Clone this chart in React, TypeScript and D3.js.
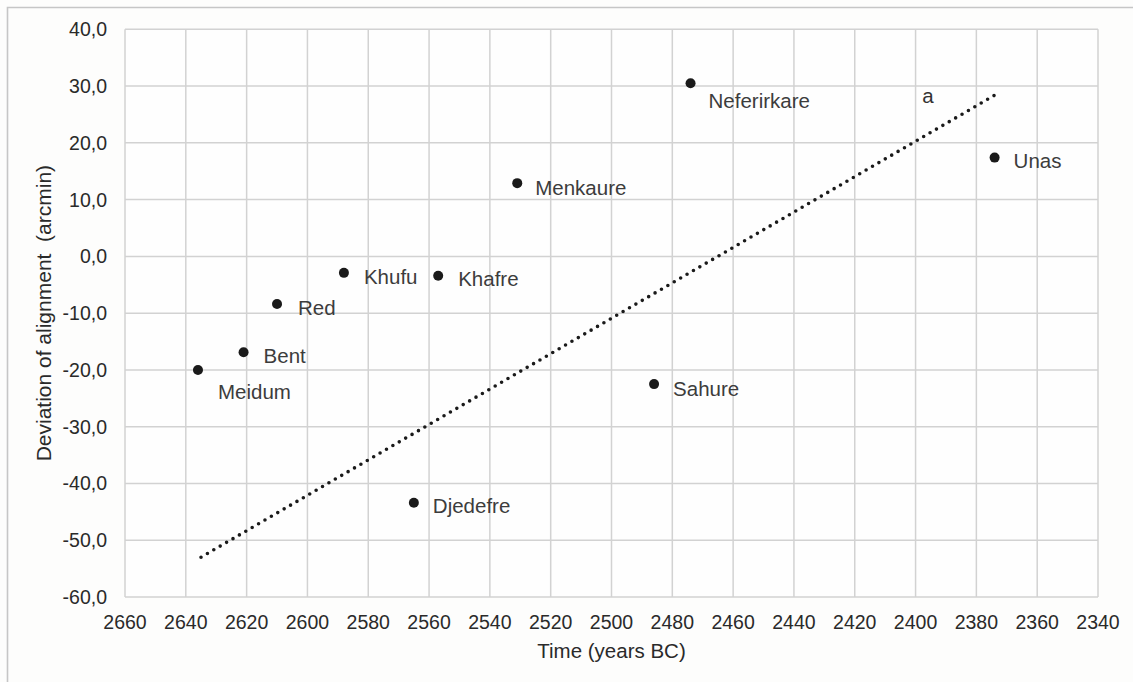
import React from "react";
import * as d3 from "d3";

const pyramids = ["Meidum", "Bent", "Red", "Khufu", "Khafre", "Menkaure", "Djedefre", "Sahure", "Neferirkare", "Unas"];
const years = [2636, 2621, 2610, 2588, 2557, 2531, 2565, 2486, 2474, 2374];
const deviations = [-20.0, -16.9, -8.4, -2.9, -3.4, 12.9, -43.4, -22.5, 30.5, 17.4];
const labelOffsets: [number, number][] = [
  [20, 22], [20, 3], [21, 3], [20, 4], [20, 3], [18, 4.5], [19, 3], [19, 4], [18, 17], [19, 2.5],
];
const trendYears = [2635, 2373];
const trendValues = [-53.0, 28.7];
const xTicks = [2660, 2640, 2620, 2600, 2580, 2560, 2540, 2520, 2500, 2480, 2460, 2440, 2420, 2400, 2380, 2360, 2340];
const yTicks = [40, 30, 20, 10, 0, -10, -20, -30, -40, -50, -60];

const W = 1133;
const H = 682;
const left = 125;
const right = 1098;
const top = 29.3;
const bottom = 597;

export default function App() {
  const x = d3.scaleLinear().domain([2660, 2340]).range([left, right]);
  const y = d3.scaleLinear().domain([-60, 40]).range([bottom, top]);
  const fmt = (v: number) => v.toFixed(1).replace(".", ",");
  const trendLine = d3
    .line<number>()
    .x((_, i) => x(trendYears[i]))
    .y((v) => y(v))(trendValues) as string;
  const font = "'Liberation Sans', Arial, Helvetica, sans-serif";
  const grid = "#d2d2d2";

  return (
    <svg
      width={W}
      height={H}
      style={{ position: "absolute", left: 0, top: 0, background: "#fdfdfc" }}
      fontFamily={font}
    >
      <path d={`M7.5,${H} L7.5,7.5 L${W},7.5`} fill="none" stroke="#c6c6c6" strokeWidth={1.6} />
      <rect x={left} y={top} width={right - left} height={bottom - top} fill="#fefefe" />
      {xTicks.map((t) => (
        <line key={"gx" + t} x1={x(t)} x2={x(t)} y1={top} y2={bottom} stroke={grid} strokeWidth={1.5} />
      ))}
      {yTicks.map((t) => (
        <line key={"gy" + t} x1={left} x2={right} y1={y(t)} y2={y(t)} stroke={grid} strokeWidth={1.5} />
      ))}
      {xTicks.map((t) => (
        <text key={"tx" + t} x={x(t)} y={621.7} textAnchor="middle" dominantBaseline="central" fontSize={19.5} fill="#2a2a2a">
          {t}
        </text>
      ))}
      {yTicks.map((t) => (
        <text key={"ty" + t} x={107} y={y(t)} textAnchor="end" dominantBaseline="central" fontSize={19.5} fill="#2a2a2a">
          {fmt(t)}
        </text>
      ))}
      <text x={(left + right) / 2} y={650} textAnchor="middle" dominantBaseline="central" fontSize={20.5} fill="#2a2a2a">
        Time (years BC)
      </text>
      <text
        transform={`translate(43,${(top + bottom) / 2}) rotate(-90)`}
        textAnchor="middle"
        dominantBaseline="central"
        fontSize={21}
        fill="#2a2a2a"
        style={{ whiteSpace: "pre" }}
      >
        {"Deviation of alignment \u00a0(arcmin)"}
      </text>
      <path
        d={trendLine}
        fill="none"
        stroke="#1a1a1a"
        strokeWidth={3.6}
        strokeLinecap="round"
        strokeDasharray="0 7.4"
      />
      <text x={928} y={95} textAnchor="middle" dominantBaseline="central" fontSize={20.5} fill="#333">
        a
      </text>
      {pyramids.map((p, i) => (
        <g key={p}>
          <circle cx={x(years[i])} cy={y(deviations[i])} r={5} fill="#1a1a1a" />
          <text
            x={x(years[i]) + labelOffsets[i][0]}
            y={y(deviations[i]) + labelOffsets[i][1]}
            dominantBaseline="central"
            fontSize={20.5}
            fill="#3c3c3c"
          >
            {p}
          </text>
        </g>
      ))}
    </svg>
  );
}
